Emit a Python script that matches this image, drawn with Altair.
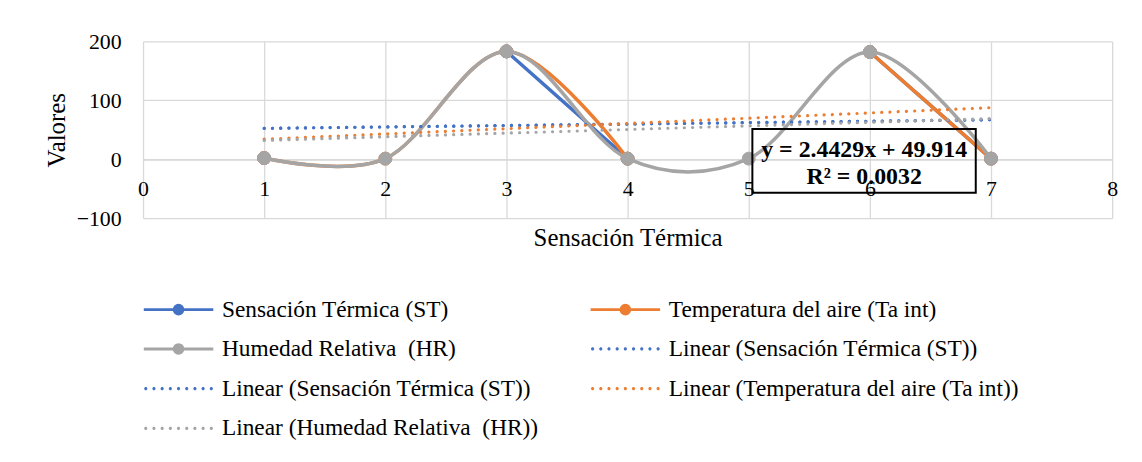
import altair as alt
import pandas as pd

# ---------------- data ----------------
x_vals = [1, 2, 3, 4, 5, 6, 7]
st_vals = [2, None, 183, 1, None, 182, 1]      # Sensación Térmica (ST)  (blank cells -> gaps)
ta_vals = [2, 1, 183, 1, None, 182, 1]         # Temperatura del aire (Ta int)
hr_vals = [2, 1, 183, 1, 1, 182, 1]            # Humedad Relativa (HR)

trend_x = [1, 7]
trend_st = [52.4, 67.0]     # y = 2.4429x + 49.914
trend_ta = [34.0, 87.5]
trend_hr = [32.0, 69.0]

x_ticks = [0, 1, 2, 3, 4, 5, 6, 7, 8]
y_ticks = [-100, 0, 100, 200]

eq_lines = ["y = 2.4429x + 49.914", "R² = 0.0032"]

S1 = "Sensación Térmica (ST)"
S2 = "Temperatura del aire (Ta int)"
S3 = "Humedad Relativa\u00a0 (HR)"
T1 = "Linear (Sensación Térmica (ST))"
T2 = "Linear (Sensación Térmica (ST)) "
T3 = "Linear (Temperatura del aire (Ta int))"
T4 = "Linear (Humedad Relativa\u00a0 (HR))"
entries = [S1, S2, S3, T1, T2, T3, T4]

BLUE, ORANGE, GRAY = "#4472C4", "#ED7D31", "#A5A5A5"
FONT = "Liberation Serif"

# ---------------- tables ----------------
rows = []
for name, vals in [(S1, st_vals), (S2, ta_vals), (S3, hr_vals)]:
    for xv, yv in zip(x_vals, vals):
        rows.append({"x": xv, "y": yv, "series": name})
df = pd.DataFrame(rows)

trows = []
for name, vals in [(T1, trend_st), (T2, trend_st), (T3, trend_ta), (T4, trend_hr)]:
    for xv, yv in zip(trend_x, vals):
        trows.append({"x": xv, "y": yv, "series": name})
df_trend = pd.DataFrame(trows)

# annotation placement (data space) for the trendline label box
EQ_X = 5.953
EQ_Y = [3.9, -42.2]
BOX = {"x": 5.03, "x2": 6.874, "y": 51.2, "y2": -56.9}
df_eq = pd.DataFrame({"x": [EQ_X, EQ_X], "y": EQ_Y, "text": eq_lines})
df_box = pd.DataFrame([BOX])

W, H = 976, 178

x_enc = alt.X(
    "x:Q",
    scale=alt.Scale(domain=[0, 8], nice=False, zero=False),
    axis=alt.Axis(
        values=x_ticks, format="d", grid=True, gridColor="#d9d9d9", gridWidth=1.3,
        domain=True, domainColor="#d9d9d9", domainWidth=1.3, ticks=False,
        labelFont=FONT, labelFontSize=22, labelColor="black",
        labelBaseline="alphabetic", labelPadding=37, labelFlush=False, labelOverlap=False,
        offset=-H / 3.0,
        title="Sensación Térmica", titleFont=FONT, titleFontSize=25, titleFontWeight="normal",
        titleColor="black", titleBaseline="alphabetic", titleAlign="center",
        titleX=W / 2.0, titleY=86.5,
    ),
)
y_enc = alt.Y(
    "y:Q",
    scale=alt.Scale(domain=[-100, 200], nice=False, zero=False),
    axis=alt.Axis(
        values=y_ticks, format="d", grid=True, gridColor="#d9d9d9", gridWidth=1.3,
        domain=False, ticks=False,
        labelFont=FONT, labelFontSize=22, labelColor="black", labelPadding=22,
        title="Valores", titleFont=FONT, titleFontSize=25, titleFontWeight="normal",
        titleColor="black", titleAngle=270, titleBaseline="alphabetic", titleAlign="center",
        titleX=-79, titleY=H / 2.0,
    ),
)

layers = []
for name, col in [(S1, BLUE), (S2, ORANGE), (S3, GRAY)]:
    base = alt.Chart(df).transform_filter(alt.datum.series == name)
    layers.append(
        base.mark_line(interpolate="cardinal", tension=0, strokeWidth=3.5, color=col,
                       invalid="break-paths-filter-domains").encode(x=x_enc, y=y_enc)
    )
    layers.append(
        base.mark_point(filled=True, size=170, opacity=1, color=col, stroke=col,
                        strokeWidth=1).encode(x=x_enc, y=y_enc)
    )

for name, col in [(T1, BLUE), (T2, BLUE), (T3, ORANGE), (T4, GRAY)]:
    layers.append(
        alt.Chart(df_trend).transform_filter(alt.datum.series == name)
        .mark_line(strokeDash=[0.1, 8.2], strokeCap="round", strokeWidth=3.2, color=col)
        .encode(x=x_enc, y=y_enc)
    )

layers.append(
    alt.Chart(df_box).mark_rect(fill="transparent", stroke="black", strokeWidth=2)
    .encode(x=x_enc, x2="x2:Q", y=y_enc, y2="y2:Q")
)
layers.append(
    alt.Chart(df_eq).mark_text(font=FONT, fontSize=24, fontWeight="bold", color="black",
                               align="center", baseline="alphabetic")
    .encode(x=x_enc, y=y_enc, text="text:N")
)

# legend symbols (unit = 10 px for symbolSize 400): 70 px line with marker / row of dots
SYM_SIZE = 400
R = 0.435
LINE_DOT = (f"M-3.5,0L3.5,0M{-R},0A{R},{R},0,1,0,{R},0A{R},{R},0,1,0,{-R},0Z")
DR = 0.16
DOTS = "".join(
    f"M{-3.3 + i * 0.825 - DR:.4f},0A{DR},{DR},0,1,0,{-3.3 + i * 0.825 + DR:.4f},0"
    f"A{DR},{DR},0,1,0,{-3.3 + i * 0.825 - DR:.4f},0Z"
    for i in range(9)
)
fills = [BLUE, ORANGE, GRAY, BLUE, BLUE, ORANGE, GRAY]
strokes = [BLUE, ORANGE, GRAY, "transparent", "transparent", "transparent", "transparent"]
shapes = [LINE_DOT] * 3 + [DOTS] * 4

legend_layer = (
    alt.Chart(pd.DataFrame({"entry": entries}))
    .transform_filter("false")
    .mark_point(filled=True, opacity=1, strokeWidth=3)
    .encode(
        fill=alt.Fill("entry:N", scale=alt.Scale(domain=entries, range=fills), title=None),
        stroke=alt.Stroke("entry:N", scale=alt.Scale(domain=entries, range=strokes), title=None),
        shape=alt.Shape("entry:N", scale=alt.Scale(domain=entries, range=shapes), title=None),
    )
)
layers.append(legend_layer)

chart = (
    alt.layer(*layers)
    .properties(
        width=W, height=H,
        autosize=alt.AutoSizeParams(type="none"),
        padding={"left": 136, "top": 32, "right": 22, "bottom": 250},
        title=alt.TitleParams(
            "en una ecuación de regresión lineal para", anchor="start", frame="group",
            font=FONT, fontSize=22, fontWeight="normal", color="black",
            baseline="alphabetic", offset=35, dx=-144,
        ),
    )
    .configure_view(stroke="transparent")
    .configure_legend(
        orient="none", legendX=-1, legendY=258, columns=2, direction="horizontal",
        symbolSize=SYM_SIZE, symbolStrokeWidth=3, symbolOffset=25,
        labelFont=FONT, labelFontSize=23.5,
        labelColor="black", labelLimit=0, labelOffset=32, rowPadding=15, columnPadding=46,
        padding=0, gridAlign="each",
    )
)

chart.save("out.html", embed_options={"renderer": "svg", "actions": False})
